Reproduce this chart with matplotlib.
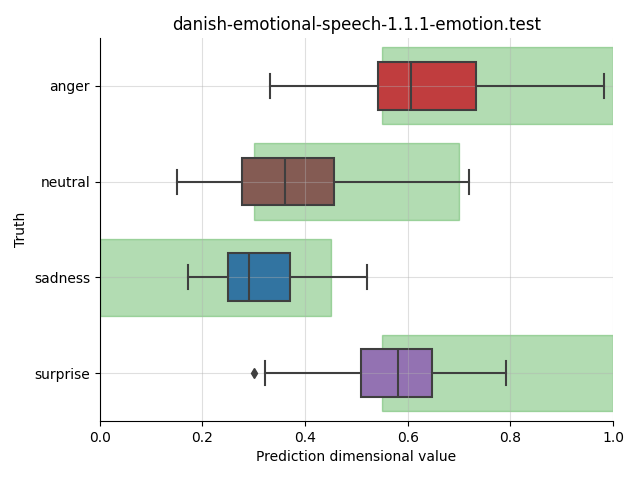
import matplotlib.pyplot as plt
import matplotlib.colors as mcolors
import colorsys

emotions = ['anger', 'neutral', 'sadness', 'surprise']
whislo = [0.331, 0.150, 0.172, 0.322]
q1 = [0.542, 0.277, 0.250, 0.509]
med = [0.606, 0.361, 0.290, 0.581]
q3 = [0.733, 0.456, 0.370, 0.647]
whishi = [0.982, 0.719, 0.520, 0.791]
fliers = [[], [], [], [0.300]]
box_colors = ['tab:red', 'tab:brown', 'tab:blue', 'tab:purple']

# expected ranges per emotion
range_lo = [0.55, 0.30, 0.0, 0.55]
range_hi = [1.0, 0.70, 0.45, 1.0]


def desaturate(color, prop=0.75):
    r, g, b = mcolors.to_rgb(color)
    h, l, s = colorsys.rgb_to_hls(r, g, b)
    return colorsys.hls_to_rgb(h, l, s * prop)


fig, ax = plt.subplots(figsize=(6.4, 4.8), dpi=100)
fig.subplots_adjust(left=0.156, right=0.958, top=0.921, bottom=0.123)

ypos = list(range(len(emotions)))
widths = [h - l for l, h in zip(range_lo, range_hi)]
ax.barh(ypos, widths, left=range_lo, height=0.8, color='tab:green', alpha=0.36,
        edgecolor='tab:green', linewidth=1, zorder=1)

stats = []
for i, e in enumerate(emotions):
    stats.append(dict(label=e, whislo=whislo[i], q1=q1[i], med=med[i],
                      q3=q3[i], whishi=whishi[i], fliers=fliers[i]))

line_col = '#3f3f3f'
bp = ax.bxp(stats, positions=ypos, widths=0.5, vert=False, patch_artist=True,
            boxprops=dict(edgecolor=line_col, linewidth=1.5),
            whiskerprops=dict(color=line_col, linewidth=1.5),
            capprops=dict(color=line_col, linewidth=1.5),
            medianprops=dict(color=line_col, linewidth=1.5),
            flierprops=dict(marker='d', markerfacecolor=line_col,
                            markeredgecolor=line_col, markersize=5))
for patch, c in zip(bp['boxes'], box_colors):
    patch.set_facecolor(desaturate(c))
    patch.set_zorder(1.2)
for key in ['whiskers', 'caps', 'medians', 'fliers']:
    for ln in bp[key]:
        ln.set_zorder(2)

ax.set_axisbelow('line')
ax.grid(True, color='#b0b0b0', alpha=0.4, linewidth=0.8)
ax.set_xlim(0, 1)
ax.set_ylim(3.5, -0.5)
ax.set_yticks(ypos)
ax.set_yticklabels(emotions)
ax.spines['top'].set_visible(False)
ax.spines['right'].set_visible(False)
ax.set_title('danish-emotional-speech-1.1.1-emotion.test')
ax.set_xlabel('Prediction dimensional value')
ax.set_ylabel('Truth')

plt.savefig('out.png', dpi=100)
